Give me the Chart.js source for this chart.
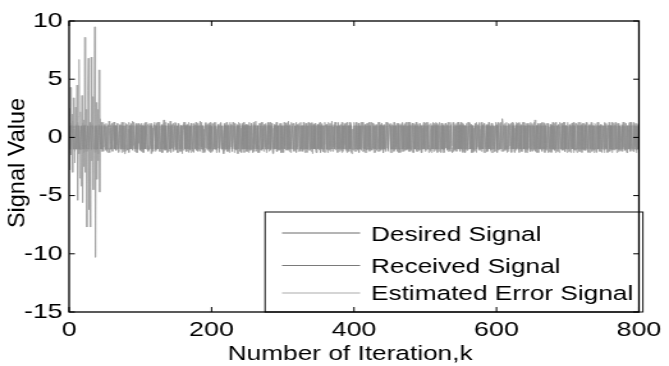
<!DOCTYPE html>
<html><head><meta charset="utf-8">
<script src="https://cdn.jsdelivr.net/npm/chart.js@4/dist/chart.umd.min.js"></script>
<style>html,body{margin:0;padding:0;background:#fff;overflow:hidden}#wrap{width:669px;height:366px;overflow:hidden}
#c{display:block;transform:scaleX(1.27916);transform-origin:0 0}</style>
</head><body><div id="wrap"><canvas id="c" width="523" height="366"></canvas></div>
<script>
const seriesLabels = ['Desired Signal', 'Received Signal', 'Estimated Error Signal'];
const xTicks = [0, 200, 400, 600, 800];
const yTicks = [-15, -10, -5, 0, 5, 10];
const xTitle = 'Number of Iteration,k';
const yTitle = 'Signal Value';

const desired = [
1,-1,-1,1,1,1,-1,1,-1,-1,1,-1,1,1,-1,-1,-1,1,-1,1,1,-1,1,1,-1,
-1,1,-1,-1,1,1,-1,1,1,1,-1,-1,1,-1,1,-1,-1,1,1,-1,1,-1,-1,-1,1,
1,-1,1,-1,-1,1,1,1,-1,1,-1,-1,1,1,-1,1,-1,1,1,-1,-1,1,-1,1,1,
-1,-1,1,-1,1,1,-1,-1,-1,1,1,-1,1,-1,1,1,1,-1,-1,1,-1,-1,1,1,-1,
1,1,-1,1,-1,-1,1,-1,1,1,-1,-1,-1,1,1,-1,1,-1,-1,1,1,1,-1,1,-1,
-1,1,1,-1,-1,1,-1,1,1,-1,1,-1,-1,-1,1,1,-1,1,-1,1,1,-1,-1,1,1,
-1,1,-1,1,1,-1,-1,1,-1,-1,1,1,1,-1,1,-1,1,-1,-1,1,-1,1,1,-1,-1,
1,-1,1,1,-1,1,-1,-1,1,1,-1,1,-1,1,-1,-1,1,1,1,-1,-1,1,-1,1,-1,
1,1,-1,-1,1,-1,1,-1,-1,1,1,-1,1,1,-1,1,-1,-1,1,-1,1,1,-1,-1,1,
-1,-1,1,1,-1,1,1,-1,1,-1,-1,1,-1,1,1,1,-1,-1,1,-1,1,-1,1,1,-1,
1,-1,-1,1,-1,1,1,-1,-1,1,-1,1,1,-1,1,-1,-1,-1,1,1,-1,1,-1,1,1,
-1,1,-1,-1,1,-1,1,1,-1,1,1,-1,-1,1,-1,1,1,-1,1,-1,-1,1,1,-1,1,
-1,-1,1,-1,1,1,1,-1,1,-1,1,-1,-1,1,1,-1,-1,1,-1,1,-1,1,1,1,-1,
1,-1,1,-1,-1,1,-1,1,1,-1,-1,1,1,-1,1,1,-1,-1,1,-1,1,-1,-1,1,1,
-1,1,1,-1,1,-1,-1,1,-1,1,1,1,-1,-1,1,-1,1,-1,1,1,-1,-1,1,-1,1,
1,1,-1,1,-1,1,-1,-1,1,-1,1,-1,1,1,-1,-1,1,1,-1,1,-1,1,-1,-1,-1,
1,-1,1,1,-1,-1,1,-1,1,-1,-1,1,1,1,-1,1,-1,-1,1,-1,1,1,-1,1,-1,
-1,-1,1,-1,1,-1,1,1,-1,-1,1,-1,1,-1,1,1,-1,1,-1,-1,-1,1,1,-1,1,
1,1,-1,-1,1,1,-1,1,-1,1,-1,-1,1,-1,-1,1,1,-1,1,1,-1,-1,1,-1,1,
-1,1,-1,1,-1,-1,1,1,1,-1,1,-1,-1,1,-1,1,-1,1,1,-1,1,-1,1,1,-1,
-1,1,1,-1,1,-1,-1,-1,1,1,-1,1,-1,1,1,-1,1,-1,-1,1,1,-1,-1,1,-1,
1,-1,-1,1,1,-1,1,-1,1,-1,1,1,-1,-1,-1,1,-1,1,1,-1,1,1,-1,1,-1,
1,-1,1,-1,1,1,-1,-1,1,-1,-1,1,1,-1,1,-1,1,-1,-1,-1,1,1,-1,1,1,
-1,1,-1,-1,1,-1,1,1,1,-1,-1,1,-1,1,-1,1,1,-1,-1,1,-1,1,-1,-1,1,
1,-1,1,1,-1,-1,1,-1,-1,1,1,-1,1,-1,1,-1,-1,1,1,1,-1,-1,1,-1,1,
-1,-1,1,-1,1,1,-1,1,-1,1,-1,-1,1,1,-1,1,-1,-1,1,-1,1,1,1,-1,-1,
1,1,-1,1,-1,-1,1,-1,1,1,-1,1,-1,-1,1,-1,1,1,-1,1,-1,-1,1,1,-1,
-1,1,-1,1,1,-1,-1,1,-1,-1,1,-1,1,1,1,-1,-1,1,-1,1,1,-1,1,-1,-1,
1,-1,-1,1,-1,1,1,-1,1,-1,1,1,-1,-1,1,-1,1,-1,1,1,-1,1,-1,-1,1,
-1,1,1,-1,-1,1,-1,1,-1,1,1,-1,-1,1,-1,-1,1,1,-1,1,-1,1,1,-1,1,
1,-1,1,-1,1,-1,-1,1,1,-1,1,-1,1,-1,-1,1,1,-1,1,-1,-1,1,-1,1,-1,
-1,1,-1,1,1,-1,1,-1,-1,1,-1,1,1,-1,1,1,-1,-1,1,-1,1,-1,1,-1,1
];

const received = [
0.9,-1.3,-0.6,1.2,0.8,1.4,-1.0,0.7,-1.2,-0.9,1.1,-0.5,1.3,0.6,-1.4,-0.8,-1.1,0.9,-0.7,1.2,1.0,-1.3,0.8,1.1,-0.9,
-1.2,0.7,-1.0,-0.6,1.3,0.9,-1.1,1.2,0.5,1.0,-0.8,-1.3,0.9,-1.2,0.7,-0.9,-1.4,1.1,0.8,-0.6,1.3,-1.0,-0.7,-1.2,1.1,
0.8,-1.1,1.2,-0.7,-1.3,0.6,1.4,0.9,-1.0,1.1,-0.6,-1.2,0.8,1.3,-0.9,1.0,-1.1,0.7,1.2,-1.3,-0.8,1.1,-1.0,0.6,1.3,
-0.9,-1.2,1.0,-1.4,0.7,1.2,-0.8,-1.1,-0.6,1.3,0.9,-1.0,1.1,-0.7,1.4,0.8,1.0,-1.2,-0.9,1.1,-1.3,-0.6,1.2,0.9,-1.1,
1.1,0.7,-1.2,1.0,-0.8,-1.3,1.2,-0.9,0.6,1.3,-1.1,-0.7,-1.0,1.2,0.8,-1.4,1.0,-0.6,-1.2,0.9,1.3,0.7,-1.1,1.2,-0.8,
-1.0,1.3,0.8,-1.2,-0.7,1.1,-1.3,0.9,1.5,-0.8,1.0,-1.1,-0.6,-1.3,1.2,0.7,-1.0,1.4,-0.9,1.1,0.8,-1.2,-0.7,1.0,1.3,
-1.1,0.8,-1.3,1.2,0.9,-0.7,-1.2,1.0,-0.8,-1.4,1.1,0.7,1.3,-1.0,0.8,-1.2,1.1,-0.6,-1.3,0.9,-1.1,1.2,0.6,-0.9,-1.2,
1.2,-0.9,0.7,1.3,-1.1,0.8,-1.2,-0.6,1.0,1.4,-0.8,1.1,-1.3,0.7,-1.0,-1.2,0.9,1.3,0.6,-1.1,-0.8,1.2,-1.0,0.9,-1.3,
0.7,1.2,-1.1,-0.8,1.3,-1.0,0.9,-1.3,-0.7,1.1,0.8,-1.2,1.0,1.3,-0.9,0.6,-1.1,-1.4,1.2,-0.8,1.0,0.7,-1.2,-0.9,1.1,
-1.3,-0.7,1.1,0.9,-1.2,1.3,0.6,-1.0,1.2,-0.8,-1.1,0.9,-1.4,1.0,0.7,1.2,-0.9,-1.3,1.1,-0.6,1.3,-1.0,0.8,1.1,-1.2,
1.0,-1.2,-0.8,1.3,-1.1,0.7,1.2,-0.9,-1.3,1.1,-0.6,1.0,1.4,-1.2,0.8,-1.0,-0.7,-1.3,1.2,0.9,-1.1,1.3,-0.8,0.7,1.1,
-0.8,1.1,-1.3,-0.9,1.2,-0.6,1.0,1.3,-1.1,0.8,1.2,-1.4,-0.7,1.1,-1.0,0.9,1.3,-1.2,0.6,-1.1,-0.9,1.0,1.2,-1.3,0.8,
-1.2,-0.9,1.3,-0.7,1.0,1.2,0.8,-1.1,1.4,-1.0,0.7,-1.3,-0.8,1.1,1.2,-0.6,-1.2,0.9,-1.0,1.3,-0.8,1.1,0.7,1.2,-1.1,
1.3,-0.8,1.0,-1.2,-0.7,1.1,-1.3,0.9,1.2,-1.0,-0.6,1.3,0.8,-1.1,1.0,1.2,-0.9,-1.4,1.1,-0.7,1.2,-1.0,-1.3,0.8,1.1,
-0.9,1.2,0.7,-1.3,1.1,-0.8,-1.2,1.0,-0.6,1.3,0.9,1.1,-1.0,-1.3,0.8,-1.1,1.2,-0.7,1.0,1.4,-1.2,-0.9,1.1,-0.8,1.3,
1.1,0.8,-1.3,1.2,-0.9,1.0,-1.1,-0.7,1.3,-1.2,0.9,-0.6,1.1,1.2,-1.0,-1.3,0.7,1.0,-1.2,1.3,-0.8,1.1,-1.4,-0.9,-1.1,
0.8,-1.2,1.1,1.3,-0.7,-1.0,1.2,-1.3,0.9,-0.8,-1.1,1.0,1.3,0.7,-1.2,1.1,-0.9,-1.3,1.2,-0.6,1.0,1.3,-1.1,0.8,-1.0,
-1.1,-0.8,1.2,-1.3,0.9,-1.0,1.1,0.7,-1.2,-0.9,1.3,-0.7,1.0,-1.1,1.2,0.8,-1.3,1.1,-0.6,-1.2,-1.0,1.3,0.9,-1.1,1.2,
1.2,0.9,-1.0,-1.3,1.1,0.7,-1.2,1.3,-0.8,1.0,-1.1,-0.6,1.2,-1.3,-0.9,1.1,0.8,-1.2,1.3,1.0,-0.7,-1.1,1.2,-1.0,0.9,
-1.0,1.3,-0.8,1.1,-1.2,-0.9,1.0,1.2,0.7,-1.3,1.1,-1.0,-0.7,1.3,-1.2,0.9,-1.1,1.2,0.8,-1.3,1.0,-0.6,1.1,1.3,-0.9,
-1.2,1.0,1.3,-0.9,1.1,-1.3,-0.7,-1.1,1.2,0.8,-1.0,1.3,-1.2,0.9,1.1,-0.8,1.2,-1.3,-0.6,1.0,1.3,-1.1,-0.9,1.2,-1.0,
1.0,-1.1,-1.3,0.8,1.2,-0.9,1.1,-1.2,0.7,-1.0,1.3,0.9,-1.1,-1.3,-0.8,1.2,-1.0,1.1,0.6,-1.2,1.0,1.3,-0.9,1.1,-1.2,
1.3,-0.9,1.1,-1.2,0.8,1.0,-1.3,-0.7,1.2,-1.1,-0.8,1.3,0.9,-1.0,1.1,-1.3,0.7,-1.2,-0.9,-1.1,1.2,0.8,-1.3,1.0,1.1,
-0.9,1.2,-1.1,-0.7,1.3,-1.0,1.1,0.8,1.2,-1.3,-0.9,1.0,-1.2,1.1,-0.8,1.3,0.9,-1.1,-1.3,1.2,-0.7,1.0,-1.2,-0.9,1.3,
1.1,-1.3,0.9,1.2,-1.0,-0.8,1.3,-1.2,1.6,1.1,0.9,-1.1,1.2,-0.9,1.0,-1.3,-0.8,1.2,0.7,1.1,-1.2,-1.0,1.3,-0.8,1.0,
-1.3,-0.8,1.1,-1.0,1.2,0.9,-1.1,1.3,-0.7,1.0,-1.2,-0.9,1.1,1.3,-1.0,0.8,-1.3,-0.6,1.2,-1.1,0.9,1.2,1.0,-1.2,-0.8,
1.2,0.8,-1.1,1.3,-0.9,-1.2,1.0,-1.3,1.1,0.7,-1.0,1.2,-0.8,-1.1,1.3,-0.9,1.0,1.2,-1.3,0.8,-1.1,-0.7,1.2,1.0,-1.2,
-1.0,1.1,-1.2,0.9,1.3,-0.8,-1.1,1.2,-1.3,-0.9,1.0,-1.2,1.1,0.8,1.3,-1.0,-0.7,1.2,-1.1,0.9,1.3,-1.2,1.0,-0.8,-1.3,
0.9,-1.2,-0.8,1.1,-1.3,1.0,1.2,-0.9,1.3,-1.1,0.8,1.2,-1.0,-1.3,1.1,-0.7,1.0,-1.2,1.3,0.9,-1.1,1.2,-0.8,-1.0,1.1,
-1.1,1.3,0.9,-1.2,-0.8,1.0,-1.3,1.1,-0.9,1.2,0.8,-1.1,-1.3,1.0,-0.7,-1.2,1.1,1.3,-1.0,0.9,-1.2,1.1,0.8,-1.3,1.0,
1.0,-1.1,1.3,-0.8,1.2,-1.0,-1.3,0.9,1.1,-1.2,1.0,-0.7,1.3,-1.1,-0.9,1.2,0.8,-1.0,1.1,-1.3,-0.8,1.2,-1.1,0.9,-1.2,
-1.2,0.9,-1.0,1.3,0.8,-1.1,1.2,-0.9,-1.3,1.0,-0.8,1.1,1.3,-1.2,0.9,1.1,-1.0,-1.2,1.3,-0.7,1.0,-1.1,1.2,-0.9,1.1
];

const errorSig = [
2.5,-2.8,4.3,-1.5,2.0,-3.0,3.4,0.8,-2.2,2.6,-1.0,4.5,-5.4,1.8,6.7,-3.5,2.2,-4.2,3.6,-5.6,1.5,-2.5,8.6,-3.0,2.4,
-7.7,4.0,6.8,-6.2,1.2,-7.7,6.9,-2.0,3.5,-4.5,2.0,9.5,-10.3,3.0,-3.6,2.4,-2.0,5.8,-4.7,1.6,-1.2,0.9,-1.1,1.3,-0.8,
1.0,-0.7,0.9,-1.2,0.6,1.1,-0.9,-1.3,0.8,-0.5,1.2,-1.0,0.7,1.3,-0.8,-1.1,0.9,-0.6,1.2,-1.2,0.5,1.0,-0.9,1.1,-1.3,
0.8,-1.0,1.3,-0.6,-1.2,0.9,1.1,-0.8,0.7,-1.3,1.0,-0.9,1.2,0.6,-1.1,1.3,-0.7,-1.0,0.9,1.2,-0.8,-1.3,1.1,-0.5,0.8,
-1.1,1.2,-0.6,0.9,-1.3,1.0,-0.8,1.3,-1.0,0.7,1.1,-1.2,-0.9,1.0,-0.7,1.2,-1.3,0.8,-1.0,1.1,0.6,-1.2,0.9,-0.8,1.3,
-0.9,1.1,-1.2,0.7,1.0,-1.3,0.8,-0.6,1.2,-1.1,0.9,1.3,-1.0,-0.7,1.1,-1.2,0.8,1.0,-1.3,0.6,-0.9,1.2,-1.1,1.0,-0.8,
1.2,-1.0,0.7,-1.3,1.1,0.9,-0.8,1.0,-1.2,0.6,-1.1,1.3,0.8,-0.9,-1.2,1.1,-0.7,1.0,1.3,-1.0,0.9,-1.3,1.2,-0.6,1.0,
-1.3,0.8,1.1,-0.9,-1.1,1.2,-0.7,1.0,0.9,-1.2,1.3,-0.8,1.0,-1.1,0.7,-1.3,1.2,-0.9,0.6,1.1,-1.0,0.8,-1.2,1.3,-0.7,
0.9,-1.2,1.0,1.2,-0.8,-1.0,1.3,-1.1,0.7,-0.9,1.1,-1.3,1.2,0.8,-1.0,1.0,-0.6,-1.2,1.1,-1.1,0.9,1.3,-0.8,1.0,-1.2,
-1.0,1.3,-0.8,1.1,-1.2,0.9,0.7,-1.3,1.2,-1.0,-0.9,1.1,-0.7,1.3,1.0,-1.2,0.8,-1.1,1.2,-0.6,1.0,-1.3,0.9,1.1,-1.0,
1.1,-0.9,-1.3,1.0,0.8,-1.1,1.2,-0.7,-1.0,1.3,-1.2,0.9,1.1,-0.8,1.0,-1.3,-0.9,1.2,0.7,-1.1,1.3,-1.0,0.8,-1.2,1.1,
-0.8,1.2,-1.1,-1.0,1.3,0.7,-1.2,1.0,-0.9,1.1,1.2,-1.3,0.8,-1.0,1.1,0.9,-1.2,1.3,-0.7,1.0,-1.1,1.2,-0.8,-1.3,0.9,
1.0,-1.3,0.9,-0.7,1.2,-1.1,1.0,1.3,-0.8,-1.2,1.1,-0.9,1.3,-1.0,0.8,1.2,-1.1,-0.7,1.0,-1.3,1.1,0.9,-1.2,1.0,-0.8,
-1.2,1.0,0.8,-1.1,1.3,-0.9,-1.0,1.2,0.7,-1.3,1.0,-1.1,0.9,1.2,-0.8,-1.2,1.3,-1.0,1.1,0.8,-0.9,1.2,-1.3,0.7,1.1,
0.9,-1.1,1.3,-1.0,-0.8,1.2,-1.2,0.9,1.0,-1.3,0.8,1.1,-0.9,-1.1,1.3,-0.7,1.0,-1.2,1.2,-1.0,0.9,-0.8,1.1,1.3,-1.1,
-1.1,0.9,-1.0,1.3,-1.2,0.8,1.1,-0.9,-1.3,1.0,-0.7,1.2,1.0,-1.1,-0.8,1.3,-1.2,0.9,-1.0,1.1,1.2,-1.3,0.7,-0.9,1.0,
1.3,-0.8,1.0,-1.2,0.9,-1.1,-0.7,1.2,-1.0,1.1,1.3,-0.9,-1.2,0.8,1.0,-1.3,1.1,0.7,-1.1,1.2,-0.8,1.0,-1.2,0.9,1.3,
-1.0,1.2,-0.9,0.8,1.1,-1.3,1.0,-1.1,0.7,1.3,-0.8,-1.2,1.1,-1.0,1.2,0.9,-1.3,1.0,-0.7,-1.1,1.3,-0.9,1.2,-1.2,0.8,
1.1,-1.3,1.2,-0.8,-1.0,0.9,1.3,-1.1,1.0,-0.7,1.2,-1.2,0.8,1.1,-0.9,-1.3,1.0,1.2,-1.0,0.9,-1.2,1.1,-0.8,1.3,-1.1,
-0.9,1.0,-1.2,1.3,0.8,-1.1,-0.9,1.2,-1.3,1.0,0.7,-1.0,1.3,-1.2,1.1,-0.8,0.9,-1.1,1.2,1.0,-1.3,0.8,-1.0,1.1,-0.7,
1.2,-1.1,0.9,-1.0,1.3,-0.8,1.1,0.7,-1.2,-1.3,1.0,-0.9,1.2,0.8,-1.1,1.3,-1.0,-0.7,1.1,-1.2,0.9,1.0,-1.3,1.2,-0.8,
-1.3,1.1,-0.8,1.2,-0.9,1.0,-1.1,1.3,0.8,-1.0,-1.2,1.1,-0.7,1.0,1.3,-1.2,0.9,-1.1,-0.8,1.2,-1.0,1.3,0.7,-1.1,1.0,
0.8,-1.0,1.2,-1.3,1.1,0.9,-1.2,-0.8,1.0,-1.1,1.3,-0.9,-1.0,1.2,-0.7,1.1,1.0,-1.3,0.8,-1.2,1.1,-1.0,1.3,-0.8,0.9,
-1.1,1.3,-1.0,0.7,-1.2,1.1,0.9,-1.3,1.2,-0.8,1.0,1.1,-1.2,-0.9,1.3,-1.0,0.8,-1.1,1.2,-0.7,-1.3,1.0,0.9,-1.2,1.1,
1.0,-0.9,1.3,-1.1,-0.8,1.2,-1.0,1.1,1.6,0.9,-1.2,1.0,0.8,-1.1,1.3,-0.9,-1.2,1.1,-0.7,1.0,1.2,-1.3,0.9,-1.0,1.2,
-1.2,0.8,-1.1,1.3,1.0,-0.9,1.2,-1.3,0.7,1.1,-1.0,-1.2,1.3,-0.8,1.0,-1.1,1.2,0.9,-1.3,1.1,-0.9,1.0,-1.2,1.3,-0.7,
1.1,-1.2,0.9,-0.8,1.5,-1.1,1.0,-1.0,1.2,-1.3,0.8,1.1,-0.9,1.2,-1.2,0.7,1.3,-1.0,1.1,-1.1,-0.8,1.2,1.0,-1.3,0.9,
-0.9,1.1,-1.3,1.0,-1.0,1.2,0.8,-1.1,1.3,-0.7,-1.2,1.0,1.1,-1.3,0.9,-1.0,1.2,-0.8,-1.1,1.3,1.0,-1.2,0.7,-0.9,1.1,
1.3,-1.0,1.1,-1.2,0.9,-0.8,1.2,1.0,-1.3,1.1,-0.9,-1.1,1.2,-1.0,0.8,1.3,-1.2,1.0,-0.7,1.1,-1.3,0.9,1.2,-1.1,-0.8,
-1.1,1.2,-0.9,1.0,-1.3,1.1,-1.0,0.8,1.3,-1.2,1.0,-0.7,-1.1,1.2,1.1,-1.3,0.9,-1.0,1.3,-0.8,1.0,-1.2,1.1,0.9,-1.0,
1.0,-1.3,1.2,-0.9,1.1,-1.0,0.8,-1.2,1.3,1.0,-1.1,0.9,-1.3,1.2,-0.8,1.0,-1.1,1.3,-1.0,-0.9,1.2,-1.2,1.0,0.8,-1.1,
-1.0,1.1,-1.2,1.3,-0.8,0.9,-1.1,1.2,-1.3,1.0,0.7,-1.0,1.2,-1.1,1.3,-0.9,1.0,-1.2,1.1,-0.8,1.2,-1.3,0.9,-1.0,1.1
];

const seriesValues = [desired, received, errorSig];
const seriesColors = ['#8c8c8c', '#9c9c9c', '#a4a4a4'];
const legendColors = ['#6a6a6a', '#7a7a7a', '#ababab'];
const FONT = '"Liberation Sans", Arial, Helvetica, sans-serif';
const STRETCH = 669 / 523;

const framePlugin = {
  id: 'framePlugin',
  afterDatasetsDraw(chart) {
    const { ctx, chartArea: a, scales } = chart;
    const xs = scales.x, ys = scales.y;
    ctx.save();
    // legend box
    const lg = { left: 207.2, top: 212, right: 502.6, bottom: a.bottom };
    ctx.fillStyle = '#fff';
    ctx.fillRect(lg.left, lg.top, lg.right - lg.left, lg.bottom - lg.top);
    ctx.strokeStyle = '#111';
    ctx.lineWidth = 1;
    ctx.strokeRect(lg.left, lg.top, lg.right - lg.left, lg.bottom - lg.top);
    const lineY = [233, 265.5, 293];
    const textY = [240.5, 272.5, 300];
    ctx.font = '20.5px ' + FONT;
    ctx.textAlign = 'left';
    ctx.textBaseline = 'alphabetic';
    chart.data.datasets.forEach((ds, i) => {
      ctx.strokeStyle = legendColors[i];
      ctx.lineWidth = 1;
      ctx.beginPath();
      ctx.moveTo(220.5, lineY[i]);
      ctx.lineTo(281.5, lineY[i]);
      ctx.stroke();
      ctx.fillStyle = '#000';
      ctx.fillText(ds.label, 290, textY[i]);
    });
    // axes box
    ctx.strokeStyle = '#000';
    ctx.lineWidth = 1.3;
    ctx.strokeRect(a.left, a.top, a.right - a.left, a.bottom - a.top);
    // inward ticks on all four sides
    ctx.lineWidth = 1;
    ctx.beginPath();
    xTicks.forEach(v => {
      const px = xs.getPixelForValue(v);
      ctx.moveTo(px, a.bottom); ctx.lineTo(px, a.bottom - 5);
      ctx.moveTo(px, a.top); ctx.lineTo(px, a.top + 5);
    });
    yTicks.forEach(v => {
      const py = ys.getPixelForValue(v);
      ctx.moveTo(a.left, py); ctx.lineTo(a.left + 4.5, py);
      ctx.moveTo(a.right, py); ctx.lineTo(a.right - 4.5, py);
    });
    ctx.stroke();
    // axis titles
    ctx.fillStyle = '#000';
    ctx.font = '20.5px ' + FONT;
    ctx.textAlign = 'center';
    ctx.textBaseline = 'alphabetic';
    ctx.fillText(xTitle, (a.left + a.right) / 2 - 3, 360);
    ctx.save();
    ctx.translate(14.2, 163);
    ctx.scale(1 / STRETCH, 1);
    ctx.rotate(-Math.PI / 2);
    ctx.font = '23.5px ' + FONT;
    ctx.textBaseline = 'middle';
    ctx.fillText(yTitle, 0, 0);
    ctx.restore();
    ctx.restore();
  }
};

new Chart(document.getElementById('c'), {
  type: 'line',
  data: {
    datasets: seriesLabels.map((label, k) => ({
      label,
      data: seriesValues[k].map((v, i) => ({ x: i, y: v })),
      borderColor: seriesColors[k],
      borderWidth: 0.7,
      pointRadius: 0,
      tension: 0,
      fill: false
    }))
  },
  options: {
    responsive: false,
    animation: false,
    devicePixelRatio: 1,
    layout: { padding: { left: 0, right: 19, top: 21, bottom: 0 } },
    plugins: { legend: { display: false }, tooltip: { enabled: false } },
    scales: {
      x: {
        type: 'linear', min: 0, max: 800,
        afterBuildTicks: s => { s.ticks = xTicks.map(v => ({ value: v })); },
        afterFit: s => { s.height = 54; },
        grid: { display: false, drawTicks: false },
        border: { display: false },
        ticks: { padding: 6, color: '#000', font: { family: FONT, size: 21 }, maxRotation: 0, autoSkip: false }
      },
      y: {
        type: 'linear', min: -15, max: 10,
        afterBuildTicks: s => { s.ticks = yTicks.map(v => ({ value: v })); },
        afterFit: s => { s.width = 54; },
        grid: { display: false, drawTicks: false },
        border: { display: false },
        ticks: { padding: 5, color: '#000', font: { family: FONT, size: 21 }, autoSkip: false }
      }
    }
  },
  plugins: [framePlugin]
});
</script>
</body></html>
